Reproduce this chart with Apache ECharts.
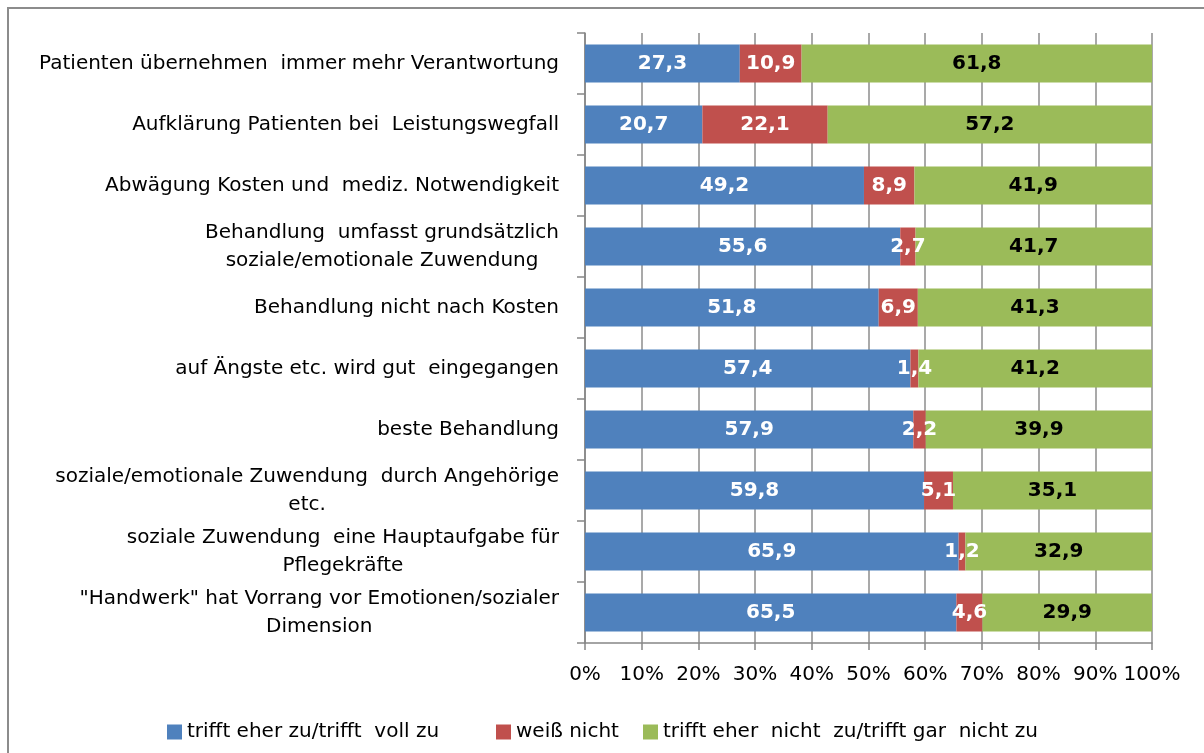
<!DOCTYPE html>
<html lang="de">
<head>
    <meta charset="UTF-8">
    <title>Patientenbehandlung</title>
    <script src="https://cdn.jsdelivr.net/npm/echarts@6/dist/echarts.min.js"></script>
    <style>
        html, body { margin: 0; padding: 0; background: #fff; }
        #main { width: 1204px; height: 753px; }
    </style>
</head>
<body>
<div id="main"></div>
<script>
    // Kategorien (von oben nach unten)
    var categories = [
        'Patienten übernehmen  immer mehr Verantwortung',
        'Aufklärung Patienten bei  Leistungswegfall',
        'Abwägung Kosten und  mediz. Notwendigkeit',
        'Behandlung  umfasst grundsätzlich\nsoziale/emotionale Zuwendung',
        'Behandlung nicht nach Kosten',
        'auf Ängste etc. wird gut  eingegangen',
        'beste Behandlung',
        'soziale/emotionale Zuwendung  durch Angehörige\netc.',
        'soziale Zuwendung  eine Hauptaufgabe für\nPflegekräfte',
        '"Handwerk" hat Vorrang vor Emotionen/sozialer\nDimension'
    ];
    var seriesNames = ['trifft eher zu/trifft  voll zu', 'weiß nicht', 'trifft eher  nicht  zu/trifft gar  nicht zu'];
    var zuValues = [27.3, 20.7, 49.2, 55.6, 51.8, 57.4, 57.9, 59.8, 65.9, 65.5];
    var weissNichtValues = [10.9, 22.1, 8.9, 2.7, 6.9, 1.4, 2.2, 5.1, 1.2, 4.6];
    var nichtZuValues = [61.8, 57.2, 41.9, 41.7, 41.3, 41.2, 39.9, 35.1, 32.9, 29.9];
    var xTicks = [0, 10, 20, 30, 40, 50, 60, 70, 80, 90, 100];

    var font = 'DejaVu Sans';
    var fs = 20;
    var colors = ['#4F81BD', '#C0504D', '#9BBB59'];

    function barSeries(name, data, color, labelColor) {
        return {
            name: name,
            type: 'bar',
            stack: 'total',
            barWidth: 38,
            data: data,
            itemStyle: { color: color },
            label: {
                show: true,
                position: 'inside',
                color: labelColor,
                fontFamily: font,
                fontWeight: 'bold',
                fontSize: fs,
                formatter: function (p) {
                    return p.value.toFixed(1).replace('.', ',');
                }
            },
            emphasis: { disabled: true }
        };
    }

    function legendItem(name, left) {
        return {
            data: [name],
            left: left,
            top: 717,
            icon: 'rect',
            itemWidth: 15,
            itemHeight: 15,
            selectedMode: false,
            textStyle: { fontFamily: font, fontSize: fs, color: '#000' }
        };
    }

    var myChart = echarts.init(document.getElementById('main'));
    myChart.setOption({
        animation: false,
        graphic: [{
            type: 'rect',
            shape: { x: 8, y: 8, width: 1400, height: 900 },
            style: { fill: 'none', stroke: '#8c8c8c', lineWidth: 2 },
            silent: true
        }],
        grid: { left: 585, right: 52, top: 33, bottom: 110 },
        legend: [
            legendItem(seriesNames[0], 162),
            legendItem(seriesNames[1], 491),
            legendItem(seriesNames[2], 638)
        ],
        xAxis: {
            type: 'value',
            min: xTicks[0],
            max: xTicks[xTicks.length - 1],
            interval: 10,
            axisLine: { show: true, lineStyle: { color: '#868686', width: 1.5 } },
            axisTick: { show: true, length: 7, lineStyle: { color: '#868686', width: 1.5 } },
            splitLine: { show: true, lineStyle: { color: '#8c8c8c', width: 1.5 } },
            axisLabel: {
                margin: 22,
                color: '#000',
                fontFamily: font,
                fontSize: fs,
                showMinLabel: true,
                showMaxLabel: true,
                formatter: '{value}%'
            }
        },
        yAxis: {
            type: 'category',
            inverse: true,
            data: categories,
            axisLine: { show: true, lineStyle: { color: '#868686', width: 1.5 } },
            axisTick: { show: true, length: 8, lineStyle: { color: '#868686', width: 1.5 } },
            axisLabel: {
                margin: 26,
                align: 'right',
                color: '#000',
                fontFamily: font,
                fontSize: fs,
                lineHeight: 28,
                // Zeilen mehrzeiliger Beschriftungen zentriert untereinander
                formatter: function (v) {
                    return v.split('\n').map(function (l) {
                        return '{c|' + l + '}';
                    }).join('\n');
                },
                rich: {
                    c: { align: 'center', fontFamily: font, fontSize: fs, lineHeight: 28, color: '#000' }
                }
            }
        },
        series: [
            barSeries(seriesNames[0], zuValues, colors[0], '#fff'),
            barSeries(seriesNames[1], weissNichtValues, colors[1], '#fff'),
            barSeries(seriesNames[2], nichtZuValues, colors[2], '#000')
        ]
    });
</script>
</body>
</html>
